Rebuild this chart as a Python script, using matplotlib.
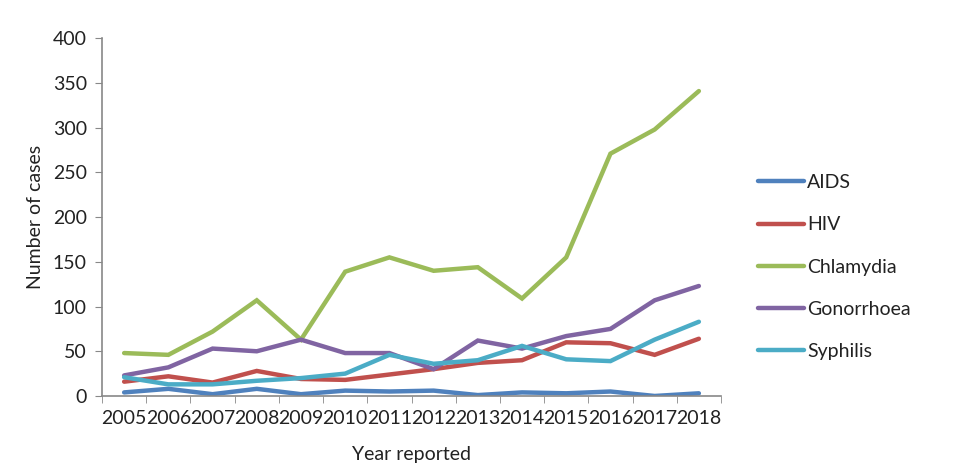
import numpy as np
import matplotlib
matplotlib.use('Agg')
import matplotlib.pyplot as plt

years = ['2005', '2006', '2007', '2008', '2009', '2010', '2011', '2012',
         '2013', '2014', '2015', '2016', '2017', '2018']
aids = [4, 8, 2, 8, 2, 6, 5, 6, 1, 4, 3, 5, 0, 3]
hiv = [16, 22, 15, 28, 19, 18, 24, 30, 37, 40, 60, 59, 46, 64]
chlamydia = [48, 46, 72, 107, 63, 139, 155, 140, 144, 109, 155, 271, 298, 341]
gonorrhoea = [23, 32, 53, 50, 63, 48, 48, 30, 62, 53, 67, 75, 107, 123]
syphilis = [21, 13, 13, 17, 20, 25, 46, 36, 40, 56, 41, 39, 63, 83]

plt.rcParams['font.family'] = ['Lato', 'DejaVu Sans']

fig = plt.figure(figsize=(9.59, 4.74), dpi=100)
ax = fig.add_axes([0.1064, 0.1646, 0.6454, 0.7546])

x = np.arange(len(years))
series = [('AIDS', aids, '#4F81BD'),
          ('HIV', hiv, '#C0504D'),
          ('Chlamydia', chlamydia, '#9BBB59'),
          ('Gonorrhoea', gonorrhoea, '#8064A2'),
          ('Syphilis', syphilis, '#4BACC6')]
for name, vals, col in series:
    ax.plot(x, vals, color=col, lw=3.2, label=name, solid_capstyle='round', solid_joinstyle='miter')

ax.set_xlim(-0.5, len(years) - 0.5)
ax.set_ylim(0, 400)
ax.set_yticks(np.arange(0, 401, 50))
ax.set_xticks(x)
ax.set_xticklabels(years)
ax.set_xticks(np.arange(-0.5, len(years), 1), minor=True)
ax.tick_params(axis='x', which='major', length=0, pad=10, labelsize=14, labelcolor='#222222')
ax.tick_params(axis='x', which='minor', length=5, color='#888888', direction='out')
ax.tick_params(axis='y', length=5, color='#888888', direction='out', pad=6, labelsize=14, labelcolor='#222222')

for s in ['top', 'right']:
    ax.spines[s].set_visible(False)
for s in ['left', 'bottom']:
    ax.spines[s].set_color('#888888')
    ax.spines[s].set_linewidth(1.2)

ax.set_xlabel('Year reported', fontsize=14, color='#222222', labelpad=14)
ax.set_ylabel('Number of cases', fontsize=14, color='#222222', labelpad=6)

leg = ax.legend(loc='center left', bbox_to_anchor=(1.031, 0.36), frameon=False,
                fontsize=14, handlelength=2.4, handletextpad=0.15, labelspacing=1.3)
for t in leg.get_texts():
    t.set_color('#222222')

fig.savefig('out.png', dpi=100)
